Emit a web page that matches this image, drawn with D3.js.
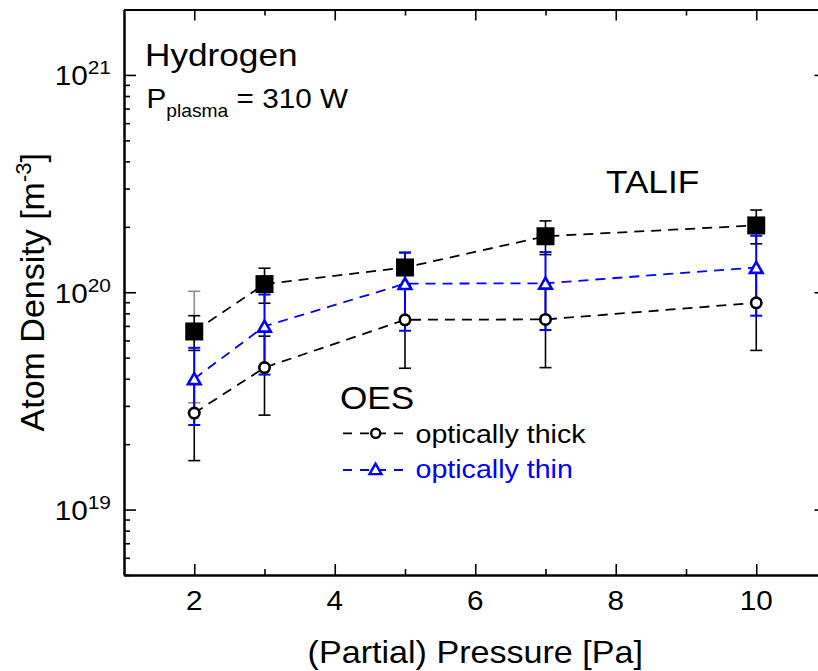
<!DOCTYPE html>
<html>
<head>
<meta charset="utf-8">
<script src="https://cdn.jsdelivr.net/npm/d3@7"></script>
<style>
  html, body { margin: 0; padding: 0; background: #fff; }
  svg { display: block; }
  text { font-family: "Liberation Sans", Arial, sans-serif; }
</style>
</head>
<body>
<script>
// ---------- data ----------
const pressure      = [2, 3, 5, 7, 10];
const talif         = [6.6e19, 1.09e20, 1.30e20, 1.81e20, 2.03e20];
const talifErr      = [1.2e19, 2.0e19, 2.2e19, 3.2e19, 3.6e19];
const talifErrWide  = [3.5e19, null, null, null, null];
const thick         = [2.78e19, 4.5e19, 7.47e19, 7.5e19, 8.94e19];
const thickErr      = [1.1e19, 1.78e19, 3.0e19, 3.0e19, 3.54e19];
const thin          = [4.0e19, 6.97e19, 1.095e20, 1.1e20, 1.30e20];
const thinErr       = [1.55e19, 2.79e19, 4.3e19, 4.3e19, 5.2e19];
const xTickValues   = [2, 4, 6, 8, 10];
const xMinorValues  = [3, 5, 7, 9];
const yTickExps     = [19, 20, 21];
const legendLabels  = ["optically thick", "optically thin"];

// ---------- layout ----------
const W = 818, H = 671;
const mL = 124, mR = 826.5, mT = 9.5, mB = 575;
const SX = 1.1; // horizontal text stretch of the reference
const BLUE = "#0000ff";

const svg = d3.select("body").append("svg")
  .attr("width", W).attr("height", H)
  .style("background", "#fff");

const x = d3.scaleLinear().domain([1, 11]).range([mL, mR]);
const y = d3.scaleLog().domain([5e18, 2e21]).range([mB, mT]);

// helper: stretched text
function stext(g, px, py, str, size, anchor, fill) {
  return g.append("text")
    .attr("transform", `translate(${px},${py}) scale(${SX},1)`)
    .attr("text-anchor", anchor || "start")
    .attr("font-size", size)
    .attr("fill", fill || "#000")
    .text(str);
}

// ---------- axes ----------
const axG = svg.append("g");
function styleAxis(g) {
  g.select(".domain").attr("stroke", "#000").attr("stroke-width", 2);
  g.selectAll(".tick line").attr("stroke", "#000").attr("stroke-width", 1.6);
  g.selectAll(".tick text").remove();
}
axG.append("g").attr("transform", `translate(0,${mB})`)
  .call(d3.axisBottom(x).tickValues(xTickValues).tickSizeInner(-11).tickSizeOuter(0).tickFormat(""))
  .call(styleAxis);
axG.append("g").attr("transform", `translate(0,${mB})`)
  .call(d3.axisBottom(x).tickValues(xMinorValues).tickSizeInner(-6).tickSizeOuter(0).tickFormat(""))
  .call(styleAxis);
axG.append("g").attr("transform", `translate(0,${mT})`)
  .call(d3.axisTop(x).tickValues(xTickValues).tickSizeInner(-11).tickSizeOuter(0).tickFormat(""))
  .call(styleAxis);
axG.append("g").attr("transform", `translate(0,${mT})`)
  .call(d3.axisTop(x).tickValues(xMinorValues).tickSizeInner(-6).tickSizeOuter(0).tickFormat(""))
  .call(styleAxis);

const yMajor = yTickExps.map(e => Math.pow(10, e));
const yMinor = [];
for (let e = 18; e <= 21; e++) for (let m = 2; m <= 9; m++) {
  const v = m * Math.pow(10, e);
  if (v >= 5e18 && v <= 2e21) yMinor.push(v);
}
axG.append("g").attr("transform", `translate(${mL},0)`)
  .call(d3.axisLeft(y).tickValues(yMajor).tickSizeInner(-12).tickSizeOuter(0).tickFormat(""))
  .call(styleAxis);
axG.append("g").attr("transform", `translate(${mL},0)`)
  .call(d3.axisLeft(y).tickValues(yMinor).tickSizeInner(-6).tickSizeOuter(0).tickFormat(""))
  .call(styleAxis);
axG.append("g").attr("transform", `translate(${mR},0)`)
  .call(d3.axisRight(y).tickValues(yMajor).tickSizeInner(-12).tickSizeOuter(0).tickFormat(""))
  .call(styleAxis);
axG.append("g").attr("transform", `translate(${mR},0)`)
  .call(d3.axisRight(y).tickValues(yMinor).tickSizeInner(-6).tickSizeOuter(0).tickFormat(""))
  .call(styleAxis);

// tick labels
const labG = svg.append("g");
xTickValues.forEach(v => stext(labG, x(v), 610, String(v), 27, "middle"));
yTickExps.forEach(e => {
  const t = labG.append("text")
    .attr("transform", `translate(111,${y(Math.pow(10, e)) + 10.5}) scale(${SX},1)`)
    .attr("text-anchor", "end")
    .attr("font-size", 27);
  t.append("tspan").text("10");
  t.append("tspan").attr("font-size", 19).attr("dy", -11).text(String(e));
});

// axis titles
stext(labG, (mL + mR) / 2, 663, "(Partial) Pressure [Pa]", 31, "middle");
const yt = labG.append("text")
  .attr("transform", `translate(43.5,${(mT + mB) / 2}) rotate(-90)`)
  .attr("text-anchor", "middle")
  .attr("font-size", 34);
yt.append("tspan").text("Atom Density [m");
yt.append("tspan").attr("font-size", 22).attr("dy", -13).text("-3");
yt.append("tspan").attr("dy", 13).text("]");

// ---------- error bars ----------
function errorBars(g, vals, errs, color, width, capW) {
  pressure.forEach((p, i) => {
    if (errs[i] == null) return;
    const lo = y(vals[i] - errs[i]), hi = y(vals[i] + errs[i]), cx = x(p);
    g.append("line").attr("x1", cx).attr("x2", cx).attr("y1", lo).attr("y2", hi)
      .attr("stroke", color).attr("stroke-width", width);
    [lo, hi].forEach(yy => g.append("line")
      .attr("x1", cx - capW / 2).attr("x2", cx + capW / 2).attr("y1", yy).attr("y2", yy)
      .attr("stroke", color).attr("stroke-width", width));
  });
}
const plotG = svg.append("g");
errorBars(plotG, talif, talifErrWide, "#8c8c8c", 1.6, 12);

// ---------- dashed connecting lines ----------
function dashLine(vals, color) {
  const line = d3.line().x((d, i) => x(pressure[i])).y(d => y(d));
  plotG.append("path").datum(vals).attr("d", line)
    .attr("fill", "none").attr("stroke", color).attr("stroke-width", 1.8)
    .attr("stroke-dasharray", "10,7");
}
dashLine(talif, "#000");
dashLine(thick, "#000");
dashLine(thin, BLUE);

errorBars(plotG, talif, talifErr, "#000", 1.6, 12);
errorBars(plotG, thick, thickErr, "#000", 1.6, 12);
errorBars(plotG, thin, thinErr, BLUE, 2, 12);

// ---------- markers ----------
const triPath = s => `M0,${-s * 0.9}L${s},${s * 0.85}L${-s},${s * 0.85}Z`;
plotG.selectAll(".sq").data(talif).enter().append("rect")
  .attr("x", (d, i) => x(pressure[i]) - 9).attr("y", d => y(d) - 9)
  .attr("width", 18).attr("height", 18).attr("fill", "#000");
plotG.selectAll(".ci").data(thick).enter().append("circle")
  .attr("cx", (d, i) => x(pressure[i])).attr("cy", d => y(d)).attr("r", 5.2)
  .attr("fill", "#fff").attr("stroke", "#000").attr("stroke-width", 2.6);
plotG.selectAll(".tr").data(thin).enter().append("path")
  .attr("transform", (d, i) => `translate(${x(pressure[i])},${y(d)})`)
  .attr("d", triPath(6.3))
  .attr("fill", "#fff").attr("stroke", BLUE).attr("stroke-width", 2.6)
  .attr("stroke-linejoin", "miter");

// ---------- annotations ----------
const annG = svg.append("g");
stext(annG, 145, 65.7, "Hydrogen", 32);
const pt = annG.append("text")
  .attr("transform", `translate(146.5,108.3) scale(${SX},1)`)
  .attr("font-size", 27);
pt.append("tspan").text("P");
pt.append("tspan").attr("font-size", 17.5).attr("dy", 8.5).text("plasma");
pt.append("tspan").attr("dy", -8.5).text(" = 310 W");
stext(annG, 606, 193.3, "TALIF", 32);

// ---------- legend ----------
stext(annG, 340, 409, "OES", 32);
const legRows = [
  { y: 433.3, color: "#000", marker: "circle", label: legendLabels[0], base: 442.7 },
  { y: 470, color: BLUE, marker: "tri", label: legendLabels[1], base: 478.3 }
];
legRows.forEach(r => {
  annG.append("line").attr("x1", 343).attr("x2", 405).attr("y1", r.y).attr("y2", r.y)
    .attr("stroke", r.color).attr("stroke-width", 1.8).attr("stroke-dasharray", "9,8");
  if (r.marker === "circle") {
    annG.append("circle").attr("cx", 375.7).attr("cy", r.y).attr("r", 4.6)
      .attr("fill", "#fff").attr("stroke", r.color).attr("stroke-width", 2.4);
  } else {
    annG.append("path").attr("transform", `translate(375.5,${r.y - 1})`).attr("d", triPath(6))
      .attr("fill", "#fff").attr("stroke", r.color).attr("stroke-width", 2.4);
  }
  stext(annG, 415.5, r.base, r.label, 26, "start", r.color);
});
</script>
</body>
</html>
